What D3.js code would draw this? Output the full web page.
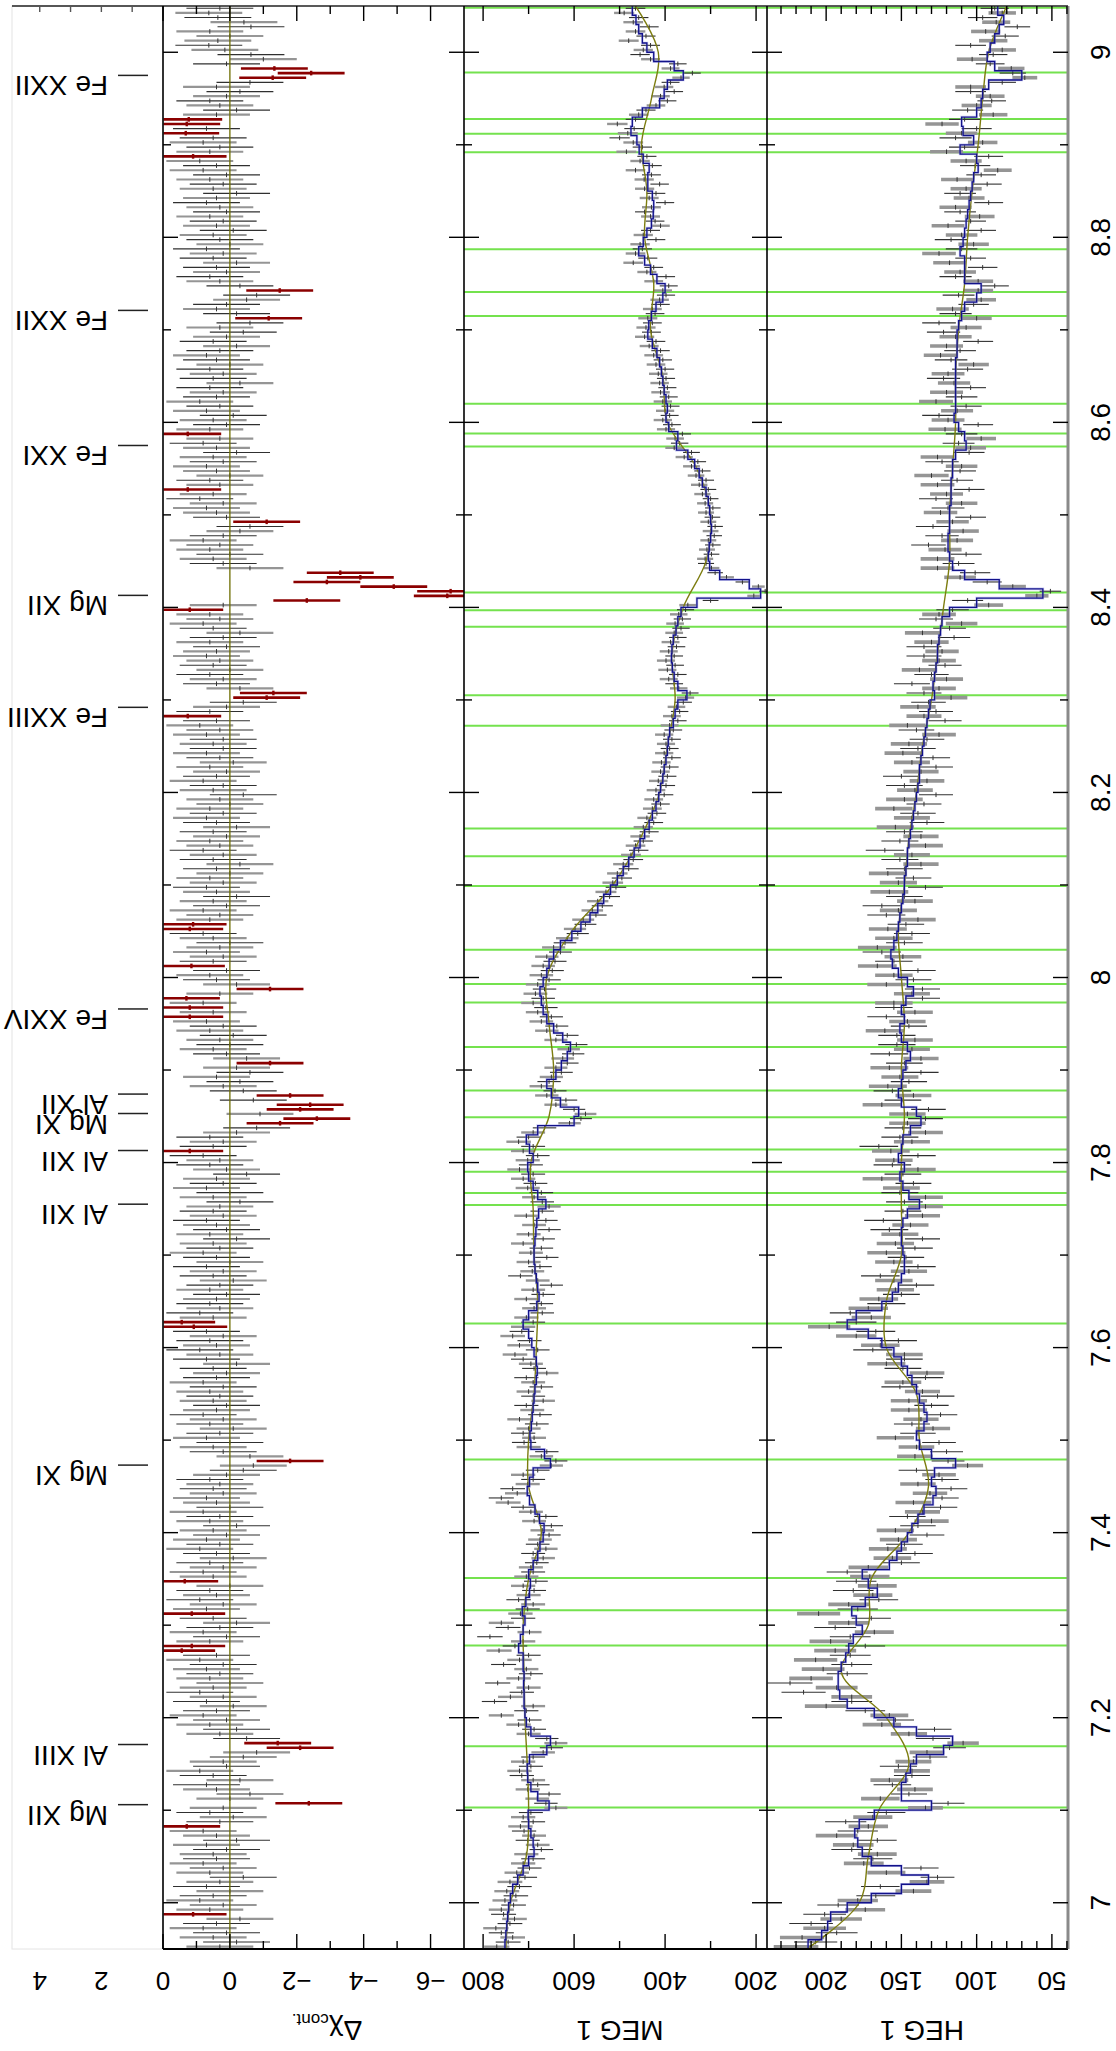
<!DOCTYPE html>
<html>
<head>
<meta charset="utf-8">
<script src="https://cdn.jsdelivr.net/npm/d3@7"></script>
<style>
  body { margin: 0; background: #fff; }
  text { font-family: "Liberation Sans", Arial, sans-serif; fill: #000; }
</style>
</head>
<body>
<div id="chart"></div>
<script>
// ---- data: bins of 0.005 A starting at 6.95 A (data), 0.01 A (models) ----
const lamStart = 6.95, dataStep = 0.005, modelStep = 0.01;

// residuals, delta chi vs continuum
const residuals = [
  0.3,-0.2,0.5,0.1,0.8,0.4,-0.3,1.1,0.6,0.2,0.9,0.5,0.0,0.7,0.3,-0.4,0.6,0.2,0.8,0.4,
  0.5,0.1,0.7,-0.2,0.4,0.8,1.29,0.3,-0.1,0.6,0.2,-2.36,0.0,-0.6,0.4,0.7,-0.3,0.5,0.9,0.1,
  0.2,-0.4,-0.8,-2.1,-1.43,-0.5,0.3,-0.2,0.6,0.1,0.8,0.4,-0.1,0.7,0.2,0.9,0.5,0.0,0.6,0.3,
  0.7,0.2,0.9,0.4,1.44,1.14,0.6,0.1,0.8,0.3,-0.2,0.5,1.14,0.7,0.2,0.9,0.4,0.6,0.0,1.35,
  0.5,0.8,0.2,0.6,-0.1,0.4,0.9,0.3,0.7,0.1,0.5,-0.2,0.6,0.3,0.8,0.0,0.4,0.7,0.2,0.5,
  0.3,0.6,0.1,-0.4,-0.7,-1.8,-0.6,0.2,0.5,0.0,0.7,0.3,-0.1,0.6,0.2,0.8,0.4,0.1,0.5,0.3,
  0.6,0.2,0.8,0.4,0.1,0.5,-0.2,0.7,0.3,0.9,0.4,0.6,0.2,0.7,1.08,1.44,0.5,0.9,0.3,0.6,
  0.4,0.1,0.6,0.3,-0.1,0.5,0.2,0.7,0.0,0.4,0.8,0.3,0.5,-0.2,0.6,0.1,0.4,0.7,0.2,0.5,
  0.3,-0.3,0.5,0.0,0.7,0.2,0.4,-0.5,0.1,0.6,0.3,0.8,1.2,0.5,0.2,0.6,-0.2,-0.8,-1.5,-2.6,
  -0.9,-2.1,-2.4,-0.7,-1.8,-0.4,0.2,-0.3,0.4,-0.6,-0.2,-1.2,-0.5,0.1,0.5,0.0,0.3,-0.1,0.6,0.2,
  0.7,1.2,0.5,1.2,0.8,1.3,0.3,-1.2,-0.2,0.4,0.6,0.1,1.15,0.5,0.2,0.7,0.3,0.0,0.5,0.8,
  1.2,1.1,0.6,0.3,0.8,0.1,0.5,-0.2,0.4,0.7,0.2,0.6,0.0,0.4,-0.3,0.5,0.2,0.8,0.3,0.6,
  0.1,0.5,-0.2,0.4,0.7,0.2,0.6,0.0,0.3,-0.4,0.5,0.2,0.8,0.4,0.1,0.6,-0.1,0.3,0.7,0.2,
  0.5,0.2,0.7,0.3,0.9,0.4,1.26,0.6,0.1,-0.4,-1.1,-1.3,-0.3,0.4,0.2,0.6,0.0,0.5,0.3,0.7,
  0.4,0.1,0.6,0.2,-0.3,0.5,0.8,0.3,0.6,1.2,0.2,-2.3,-6.5,-6.6,-4.9,-2.9,-3.9,-3.3,-0.6,0.2,
  0.5,0.0,0.6,0.3,0.8,0.2,-0.3,-0.6,-1.1,0.1,0.4,0.7,0.2,0.9,0.5,1.26,0.3,0.6,0.0,0.4,
  0.7,0.2,0.5,-0.2,0.4,0.8,0.3,1.26,0.6,0.1,0.5,-0.1,0.7,0.3,0.9,0.4,0.2,0.6,-0.3,0.5,
  0.2,0.6,0.0,0.4,0.7,0.3,-0.2,0.5,0.1,-0.4,0.3,-0.6,-1.16,-0.2,0.4,0.1,-0.5,-0.8,-1.49,-0.3,
  0.3,0.6,0.1,0.4,-0.2,0.5,0.2,0.7,0.0,0.3,0.5,-0.1,0.4,0.2,0.6,0.1,0.3,0.7,0.4,-0.2,
  0.5,0.2,0.6,0.1,0.8,0.4,0.9,1.1,0.6,0.3,0.8,0.5,1.32,0.7,1.29,1.23,0.4,-0.2,0.3,0.6,
  0.1,-0.3,0.4,-0.6,-1.28,-2.43,-1.33,0.1,-1.0,-0.63,0.15,0.63,0.36,0.0,0.6,-0.63,-0.42,0.36,0.63,0.3
];

// MEG first order counts per bin
const megCounts = [
  770,745,735,760,772,741,731,755,760,733,752,728,748,720,741,708,726,698,712,690,
  705,672,680,702,688,710,718,690,712,695,640,662,681,655,702,680,690,715,720,695,
  712,690,668,650,640,660,700,688,722,698,760,705,690,775,740,715,700,768,722,695,
  705,755,720,700,765,730,712,785,698,745,760,712,718,702,690,722,700,688,712,684,
  705,690,695,682,668,690,662,680,675,655,670,650,688,662,695,712,745,760,725,735,
  702,690,712,680,650,640,672,660,700,710,688,712,700,682,720,675,692,705,668,690,
  700,672,690,705,660,688,695,712,730,680,720,698,735,715,712,690,705,670,688,672,
  705,668,690,650,680,718,692,675,700,660,695,672,712,668,700,655,688,662,705,670,
  655,670,688,672,702,685,712,690,720,695,702,680,712,690,722,700,690,665,610,585,
  575,600,640,618,660,642,672,655,650,628,640,615,625,602,612,595,640,615,660,638,
  672,650,680,662,690,668,685,665,680,655,672,648,668,642,660,630,645,620,615,592,
  598,575,580,552,560,538,548,522,530,508,515,495,505,480,492,470,475,458,465,448,
  455,435,448,425,440,418,428,410,425,402,420,398,415,395,410,390,408,385,402,390,
  398,385,402,382,390,372,385,368,375,360,355,345,370,380,392,372,395,378,398,380,
  392,375,388,372,380,365,378,362,370,355,350,300,205,180,195,230,265,290,298,310,
  312,298,308,295,305,292,300,290,305,296,310,295,312,300,318,305,325,310,332,318,
  342,328,358,342,380,368,378,362,398,385,405,390,400,388,405,392,410,395,412,398,
  415,400,420,405,425,410,435,420,445,430,442,428,438,422,428,410,412,398,405,392,
  425,398,440,425,470,438,465,450,455,420,448,432,410,422,432,445,430,400,435,420,
  445,412,446,430,465,428,455,440,485,450,470,500,482,468,505,465,458,442,420,395,
  410,380,402,388,365,340,388,372,432,455,448,432,480,442,465,435,470,458,490,465
];

// HEG first order counts per bin
const hegCounts = [
  220,207,216,193,201,210,190,201,174,192,179,167,142,164,133,126,160,137,175,169,
  166,183,182,166,193,179,172,187,169,160,134,119,164,145,141,156,158,143,143,152,
  142,131,133,118,109,129,145,128,163,154,158,174,200,183,183,215,193,224,210,186,
  202,183,207,184,194,174,197,184,168,194,185,170,205,179,185,165,169,182,166,180,
  171,186,172,150,156,141,159,148,152,133,154,139,130,146,136,124,142,123,131,117,
  139,123,125,140,106,119,141,120,140,125,154,139,129,143,137,124,145,130,145,126,
  136,151,149,134,133,149,160,148,148,169,164,152,180,167,198,180,170,184,172,160,
  165,150,154,140,155,164,145,139,155,147,160,141,154,136,151,158,144,162,136,149,
  134,148,134,151,150,142,163,149,139,156,155,139,157,165,143,151,134,149,146,134,
  146,132,163,149,142,156,159,145,151,137,158,148,137,158,143,153,141,153,161,145,
  146,160,141,155,155,136,143,136,160,142,155,139,166,155,149,163,166,148,155,143,
  159,147,139,160,152,163,141,148,158,134,152,142,159,148,137,151,143,161,134,151,
  137,148,154,133,143,139,155,135,148,127,141,148,133,150,137,127,143,129,149,139,
  145,133,125,140,146,121,135,127,139,132,117,135,125,143,120,130,138,121,125,135,
  123,135,130,115,136,118,110,127,125,116,92,106,60,51,76,93,111,101,126,112,
  126,107,121,132,113,123,109,129,116,104,124,119,110,127,120,105,126,113,130,111,
  110,123,126,105,104,112,97,110,121,99,119,125,113,107,127,110,120,104,115,122,
  119,106,102,117,124,111,120,99,114,122,107,125,100,114,116,102,97,112,99,88,
  99,114,111,96,118,104,125,110,102,117,110,97,119,104,98,111,114,92,105,111,
  107,93,113,97,86,101,107,92,120,108,96,114,110,100,123,108,89,106,100,90,
  91,104,104,83,68,76,77,91,103,89,83,104,89,81,94,73,87,96,83,88
];

// line model (blue), 0.01 A bins
const megModel = [
  752,750,748,746,744,740,735,724,712,700,
  688,690,695,700,701,655,680,695,702,703,
  698,660,652,695,705,708,710,710,711,710,
  712,712,722,718,712,708,714,706,698,696,
  700,690,680,675,668,666,676,686,698,703,
  698,690,652,665,695,697,694,692,690,688,
  686,683,681,683,688,693,700,712,700,682,
  677,680,683,686,688,688,686,684,682,678,
  662,680,690,700,702,690,698,705,680,600,
  590,630,650,660,640,628,615,608,625,645,
  660,668,672,675,668,660,655,645,630,605,
  585,565,548,535,520,505,492,480,468,455,
  445,435,428,420,414,410,405,402,398,395,
  393,390,382,378,372,352,372,380,384,386,
  385,382,376,372,365,330,190,215,280,302,
  305,303,300,298,300,302,305,310,318,325,
  335,350,375,372,392,398,395,398,402,405,
  408,412,418,428,438,436,430,420,405,400,
  418,432,445,458,448,440,430,426,425,428,
  438,438,435,448,457,462,475,472,450,412,
  402,395,360,380,425,440,450,458,464,472
];
const hegModel = [
  212,203,199,197,186,170,150,132,150,170,
  176,179,181,178,168,130,150,150,147,144,
  140,122,116,140,155,168,186,191,192,192,
  190,187,185,182,176,180,183,174,166,172,
  176,158,153,150,146,143,139,135,129,127,
  130,128,114,130,138,140,135,133,135,138,
  140,143,146,150,155,163,172,186,180,163,
  156,152,150,148,148,149,150,150,149,146,
  138,145,149,151,148,152,150,149,144,137,
  140,150,152,150,149,147,144,146,150,151,
  148,150,147,142,146,152,156,157,155,153,
  152,151,150,149,148,148,147,146,146,145,
  144,143,142,141,140,139,138,138,137,136,
  135,134,133,132,131,128,129,128,127,126,
  126,125,124,123,118,100,56,85,108,116,
  118,119,119,118,118,118,117,117,117,116,
  116,114,107,108,112,115,114,114,114,114,
  114,114,113,113,113,112,110,108,100,97,
  108,108,108,111,109,108,107,106,105,104,
  103,102,99,100,111,102,109,110,100,97,
  96,92,70,88,93,91,88,85,82,86
];

// continuum (olive)
const contLam = [6.95,7.0,7.05,7.1,7.15,7.2,7.25,7.3,7.35,7.4,7.45,7.5,7.55,7.6,7.65,7.7,7.75,7.8,7.85,7.9,7.95,
  8.0,8.05,8.1,8.15,8.2,8.25,8.3,8.35,8.4,8.45,8.5,8.55,8.6,8.65,8.7,8.75,8.8,8.85,8.9,8.95,9.0,9.05];
const megCont = [750,740,705,700,703,708,710,712,700,672,700,700,688,683,680,688,690,695,655,645,655,
  660,605,515,455,412,395,378,385,360,310,300,330,395,405,432,425,445,440,452,430,415,465];
const hegCont = [213,178,172,165,145,160,190,172,170,145,132,138,140,160,160,150,150,150,148,150,148,
  150,152,148,145,140,136,130,126,122,118,118,116,114,114,112,108,106,103,99,96,92,80];

// line identifications
const markLam = [7.103,7.169,7.278,7.316,7.351,7.479,7.626,7.754,7.767,7.790,7.814,7.849,7.878,7.925,
  7.973,7.993,8.030,8.099,8.131,8.161,8.272,8.305,8.379,8.397,8.416,8.574,8.588,8.620,8.715,8.741,
  8.787,8.892,8.912,8.928,8.978,9.048];
const labelNames = ["Mg XII","Al XIII","Mg XI","Al XII","Al XII","Mg XI","Al XII","Fe XXIV","Fe XXIII","Mg XII","Fe XXI","Fe XXII","Fe XXII"];
const labelLam = [7.106,7.171,7.473,7.755,7.813,7.853,7.874,7.966,8.292,8.413,8.575,8.721,8.975];

// ticks
const wlMajor = [7,7.2,7.4,7.6,7.8,8,8.2,8.4,8.6,8.8,9];
const wlMinor = [7.1,7.3,7.5,7.7,7.9,8.1,8.3,8.5,8.7,8.9];
const labTicks = [4,2,0];
const resMajor = [2,0,-2,-4,-6], resMinor = [1,-1,-3,-5], resLabels = [0,-2,-4,-6];
const megMajor = [800,600,400,200], megMinor = [700,500,300];
const hegMajor = [200,150,100,50];
const hegMinor = [40,60,70,80,90,110,120,130,140,160,170,180,190,210,220,230];

// ---- layout ----
const W = 1116, H = 2051, yTop = 6, yBot = 1949;
const svg = d3.select("#chart").append("svg").attr("width", W).attr("height", H);
svg.append("rect").attr("width", W).attr("height", H).attr("fill", "#fff");

const yW = d3.scaleLinear().domain([6.95, 9.05]).range([yBot, yTop]);
const xLab = d3.scaleLinear().domain([0, 4.9]).range([163, 12]);
const xRes = d3.scaleLinear().domain([2, -7]).range([163, 464]);
const xMeg = d3.scaleLinear().domain([842, 176]).range([464, 767]);
const xHeg = d3.scaleLinear().domain([239.3, 39.3]).range([767, 1068]);

const lamOf = i => lamStart + dataStep * (i + 0.5);
const minus = v => (v < 0 ? "\u2212" + Math.abs(v) : String(v));

const defs = svg.append("defs");
[["cRes", xRes], ["cMeg", xMeg], ["cHeg", xHeg]].forEach(([id, s]) => {
  const r = s.range();
  defs.append("clipPath").attr("id", id).append("rect")
    .attr("x", Math.min(...r)).attr("y", yTop)
    .attr("width", Math.abs(r[1] - r[0])).attr("height", yBot - yTop);
});

// green line markers across the spectra
svg.append("g").selectAll("line").data(markLam).join("line")
  .attr("x1", 464).attr("x2", 1068)
  .attr("y1", d => yW(d)).attr("y2", d => yW(d))
  .attr("stroke", "#74e24e").attr("stroke-width", 2);

// error bars
function drawBars(clip, values, xs, errOf, thick, redTest) {
  const g = svg.append("g").attr("clip-path", `url(#${clip})`);
  const pts = values.map((v, i) => ({ v, i, lam: lamOf(i), e: errOf(v), red: redTest ? redTest(v) : false }));
  const order = pts.filter(p => !p.red).concat(pts.filter(p => p.red));
  const style = p => p.red ? ["#8b0000", 2.6] : (p.i % 2 === 0 ? ["#959595", thick] : ["#303030", 1.1]);
  g.selectAll(".eb").data(order).join("line")
    .attr("x1", p => xs(p.v + p.e)).attr("x2", p => xs(p.v - p.e))
    .attr("y1", p => yW(p.lam)).attr("y2", p => yW(p.lam))
    .attr("stroke", p => style(p)[0]).attr("stroke-width", p => style(p)[1]);
  g.selectAll(".bw").data(order).join("line")
    .attr("x1", p => xs(p.v)).attr("x2", p => xs(p.v))
    .attr("y1", p => yW(p.lam - dataStep / 2)).attr("y2", p => yW(p.lam + dataStep / 2))
    .attr("stroke", p => p.red ? "#8b0000" : "#333").attr("stroke-width", p => p.red ? 2.4 : 1);
}
drawBars("cRes", residuals, xRes, () => 1, 2.2, v => Math.abs(v) >= 1.05);
drawBars("cMeg", megCounts, xMeg, v => Math.sqrt(v), 2.4);
drawBars("cHeg", hegCounts, xHeg, v => Math.sqrt(v), 3.6);

// models
function drawModels(clip, model, cont, xs) {
  const g = svg.append("g").attr("clip-path", `url(#${clip})`);
  const smooth = d3.line().x(d => xs(d[1])).y(d => yW(d[0])).curve(d3.curveCatmullRom);
  g.append("path").attr("d", smooth(contLam.map((l, k) => [l, cont[k]])))
    .attr("fill", "none").attr("stroke", "#7d7d10").attr("stroke-width", 1.4);
  const steps = [];
  model.forEach((v, j) => {
    const lo = lamStart + modelStep * j;
    steps.push([xs(v), yW(lo)], [xs(v), yW(lo + modelStep)]);
  });
  const path = d3.line()(steps);
  g.append("path").attr("d", path).attr("fill", "none")
    .attr("stroke", "#7b7be0").attr("stroke-width", 2.6).attr("opacity", 0.4);
  g.append("path").attr("d", path).attr("fill", "none")
    .attr("stroke", "#12128a").attr("stroke-width", 1.3);
}
drawModels("cMeg", megModel, megCont, xMeg);
drawModels("cHeg", hegModel, hegCont, xHeg);

// zero line of residuals
svg.append("line").attr("x1", xRes(0)).attr("x2", xRes(0)).attr("y1", yTop).attr("y2", yBot)
  .attr("stroke", "#6e6e00").attr("stroke-width", 1.3);

// frames
const fr = svg.append("g");
fr.append("rect").attr("x", 12).attr("y", yTop).attr("width", 151).attr("height", yBot - yTop)
  .attr("fill", "none").attr("stroke", "#e4e4e4").attr("stroke-width", 1);
fr.append("line").attr("x1", 12).attr("x2", 1068).attr("y1", yTop).attr("y2", yTop)
  .attr("stroke", "#222").attr("stroke-width", 1.5);
fr.append("line").attr("x1", 163).attr("x2", 1068).attr("y1", yBot).attr("y2", yBot)
  .attr("stroke", "#000").attr("stroke-width", 2);
[163, 464, 767].forEach(x => fr.append("line").attr("x1", x).attr("x2", x)
  .attr("y1", yTop).attr("y2", yBot).attr("stroke", "#000").attr("stroke-width", 1.6));
fr.append("line").attr("x1", 1068).attr("x2", 1068).attr("y1", yTop).attr("y2", yBot)
  .attr("stroke", "#8a8a8a").attr("stroke-width", 3);

// wavelength ticks on panel edges
const tk = svg.append("g").attr("stroke", "#000").attr("stroke-width", 1.4);
const edges = [[163, [1]], [464, [-1, 1]], [767, [-1, 1]], [1068, [-1]]];
edges.forEach(([x, dirs]) => dirs.forEach(dir => {
  [[wlMajor, 15], [wlMinor, 8]].forEach(([vals, len]) => {
    tk.append("g").selectAll("line").data(vals).join("line")
      .attr("x1", x).attr("x2", x + dir * len)
      .attr("y1", d => yW(d)).attr("y2", d => yW(d));
  });
}));

// value ticks at top and bottom of each panel
function valueTicks(xs, vals, len) {
  [[yTop, 1], [yBot, -1]].forEach(([y, dir]) => {
    tk.append("g").selectAll("line").data(vals).join("line")
      .attr("x1", d => xs(d)).attr("x2", d => xs(d))
      .attr("y1", y).attr("y2", y + dir * len);
  });
}
valueTicks(xRes, resMajor, 15); valueTicks(xRes, resMinor, 8);
valueTicks(xMeg, megMajor, 15); valueTicks(xMeg, megMinor, 8);
valueTicks(xHeg, hegMajor, 15); valueTicks(xHeg, hegMinor, 8);
tk.append("g").selectAll("line").data([1, 2, 3, 4]).join("line")
  .attr("x1", d => xLab(d)).attr("x2", d => xLab(d)).attr("y1", yTop).attr("y2", yTop + 6)
  .attr("stroke", "#555");

// value tick labels (upside down)
const tl = svg.append("g").attr("font-size", 26).attr("text-anchor", "middle");
[[xLab, labTicks], [xRes, resLabels], [xMeg, megMajor], [xHeg, hegMajor]].forEach(([xs, vals]) => {
  tl.append("g").selectAll("text").data(vals).join("text")
    .attr("transform", d => `translate(${xs(d)},1972) rotate(180)`)
    .text(d => minus(d));
});

// wavelength labels
svg.append("g").attr("font-size", 28).attr("text-anchor", "middle")
  .selectAll("text").data(wlMajor).join("text")
  .attr("transform", d => `translate(1110,${yW(d)}) rotate(-90)`)
  .text(d => String(+d.toFixed(1)));

// axis titles
const tt = svg.append("g").attr("font-size", 28).attr("text-anchor", "middle");
tt.append("text").attr("transform", "translate(922,2021) rotate(180)").text("HEG 1");
tt.append("text").attr("transform", "translate(620,2021) rotate(180)").text("MEG 1");
const dt = tt.append("text").attr("transform", "translate(327,2021) rotate(180)");
dt.append("tspan").text("\u0394\u03c7");
dt.append("tspan").attr("font-size", 17).attr("dy", 7).text("cont.");

// line identification labels
const ll = svg.append("g");
ll.selectAll("line").data(labelLam).join("line")
  .attr("x1", 118).attr("x2", 148).attr("y1", d => yW(d)).attr("y2", d => yW(d))
  .attr("stroke", "#222").attr("stroke-width", 1.5);
ll.selectAll("text").data(labelNames).join("text")
  .attr("font-size", 28)
  .attr("transform", (d, k) => `translate(108,${yW(labelLam[k]) + 1}) rotate(180)`)
  .text(d => d);
</script>
</body>
</html>
